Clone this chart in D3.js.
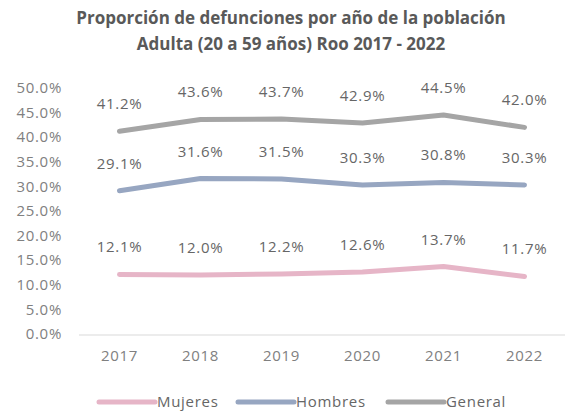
<!DOCTYPE html>
<html lang="es">
<head>
  <meta charset="UTF-8" />
  <title>Proporción de defunciones</title>
  <script src="https://d3js.org/d3.v7.min.js"></script>
  <style>
    body { margin: 0; background: #fff; }
    svg { display: block; font-family: "Open Sans", sans-serif; }
    .lbl { letter-spacing: 0.7px; }
  </style>
</head>
<body>
  <svg width="565" height="411"></svg>

  <script>
    const years = ["2017", "2018", "2019", "2020", "2021", "2022"];
    const mujeres = [12.1, 12.0, 12.2, 12.6, 13.7, 11.7];
    const hombres = [29.1, 31.6, 31.5, 30.3, 30.8, 30.3];
    const general = [41.2, 43.6, 43.7, 42.9, 44.5, 42.0];
    const yTicks = [0, 5, 10, 15, 20, 25, 30, 35, 40, 45, 50];

    const series = [
      { name: "Mujeres", values: mujeres, color: "#e6b5c7" },
      { name: "Hombres", values: hombres, color: "#97a6c1" },
      { name: "General", values: general, color: "#a5a5a5" }
    ];

    const svg = d3.select("svg");
    const plotLeft = 79, plotRight = 565, plotTop = 88, plotBottom = 334;

    const x = d3.scaleBand().domain(years).range([plotLeft, plotRight]);
    const y = d3.scaleLinear().domain([0, 50]).range([plotBottom, plotTop]);

    // title
    const title = svg.append("text")
      .attr("text-anchor", "middle")
      .attr("fill", "#595959")
      .attr("font-weight", "bold")
      .attr("font-size", 17);
    title.append("tspan").attr("x", 291).attr("y", 24).text("Proporción de defunciones por año de la población");
    title.append("tspan").attr("x", 291).attr("y", 50).text("Adulta (20 a 59 años) Roo 2017 - 2022");

    // y axis labels
    svg.append("g").selectAll("text")
      .data(yTicks).enter().append("text")
      .attr("class", "lbl")
      .attr("x", 62)
      .attr("y", d => y(d))
      .attr("dy", "0.35em")
      .attr("text-anchor", "end")
      .attr("fill", "#808080")
      .attr("font-size", 15)
      .text(d => d.toFixed(1) + "%");

    // baseline
    svg.append("line")
      .attr("x1", plotLeft).attr("x2", plotRight)
      .attr("y1", plotBottom + 1).attr("y2", plotBottom + 1)
      .attr("stroke", "#d9d9d9").attr("stroke-width", 1.2);

    // x labels
    svg.append("g").selectAll("text")
      .data(years).enter().append("text")
      .attr("class", "lbl")
      .attr("x", d => x(d) + x.bandwidth() / 2)
      .attr("y", 361)
      .attr("text-anchor", "middle")
      .attr("fill", "#808080")
      .attr("font-size", 15)
      .text(d => d);

    const line = d3.line()
      .x((d, i) => x(years[i]) + x.bandwidth() / 2)
      .y(d => y(d));

    series.forEach(s => {
      svg.append("path")
        .datum(s.values)
        .attr("d", line)
        .attr("fill", "none")
        .attr("stroke", s.color)
        .attr("stroke-width", 5)
        .attr("stroke-linecap", "round")
        .attr("stroke-linejoin", "round");

      svg.append("g").selectAll("text")
        .data(s.values).enter().append("text")
        .attr("class", "lbl")
        .attr("x", (d, i) => x(years[i]) + x.bandwidth() / 2)
        .attr("y", d => y(d) - 22)
        .attr("text-anchor", "middle")
        .attr("fill", "#666")
        .attr("font-size", 15)
        .text(d => d.toFixed(1) + "%");
    });

    // legend
    const legendX = [99, 238, 388];
    const legend = svg.append("g").selectAll("g")
      .data(series).enter().append("g")
      .attr("transform", (d, i) => `translate(${legendX[i]},402)`);
    legend.append("line")
      .attr("x1", 0).attr("x2", 56)
      .attr("stroke", d => d.color)
      .attr("stroke-width", 5)
      .attr("stroke-linecap", "round");
    legend.append("text")
      .attr("class", "lbl")
      .attr("x", 58)
      .attr("dy", "0.35em")
      .attr("fill", "#666")
      .attr("font-size", 15)
      .text(d => d.name);
  </script>
</body>
</html>
